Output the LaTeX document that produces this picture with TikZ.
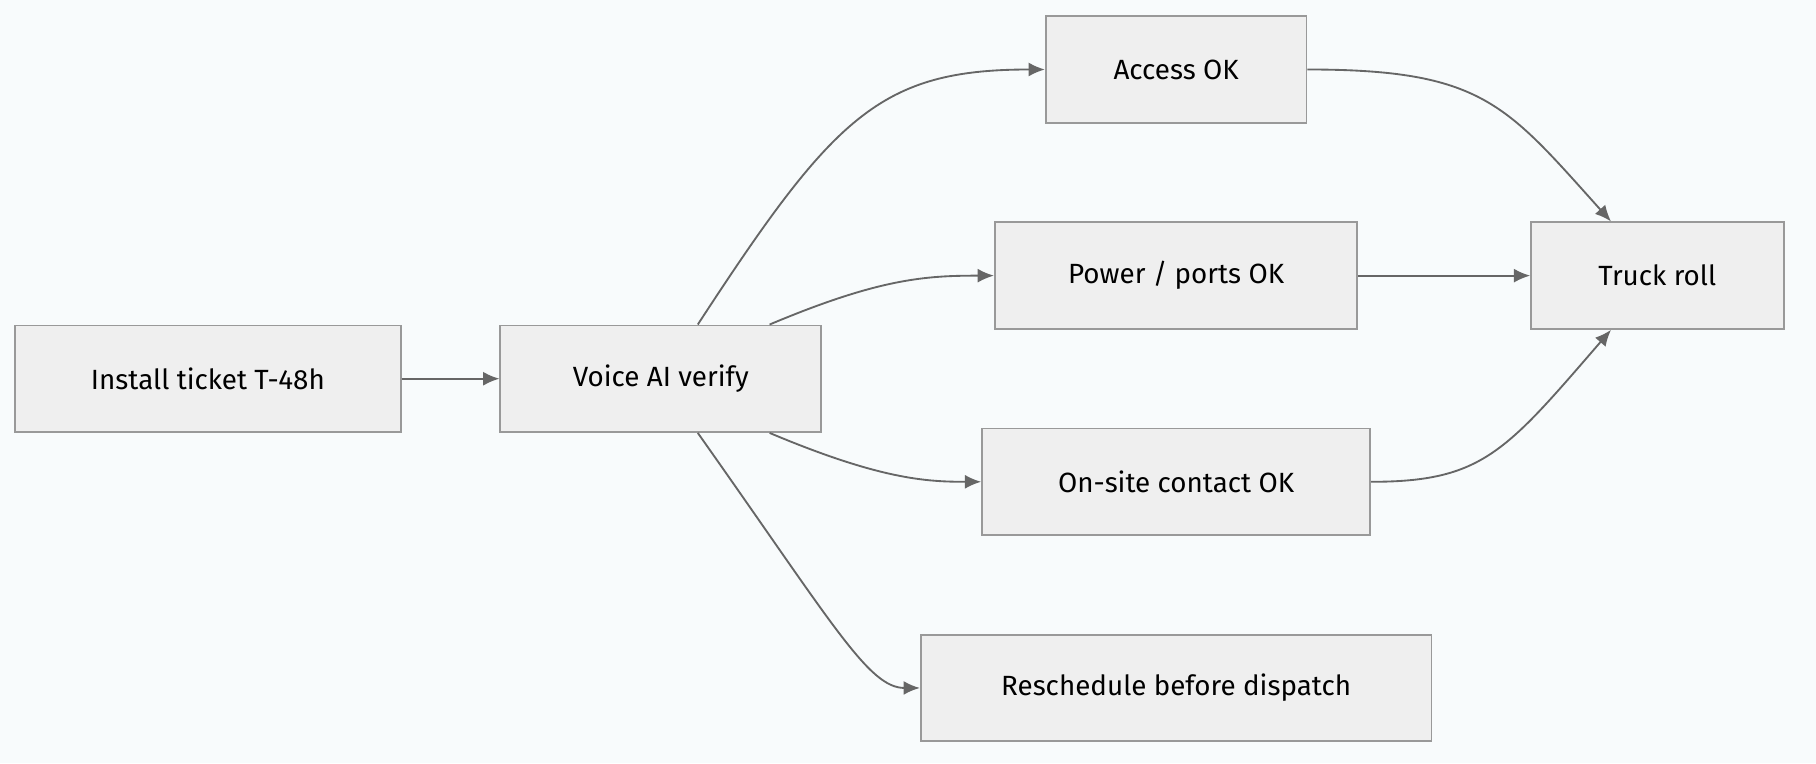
\documentclass[tikz,border=0pt]{standalone}
\usepackage{fontspec}
\setmainfont{Fira Sans}
\usetikzlibrary{arrows.meta,positioning}
\definecolor{bgcol}{HTML}{F8FBFC}
\definecolor{boxfill}{HTML}{EFEFEF}
\definecolor{boxline}{HTML}{999999}
\definecolor{edgecol}{HTML}{666666}

\begin{document}
\begin{tikzpicture}[
        x=0.5pt, y=-0.5pt,
        every node/.style={draw=boxline, fill=boxfill, line width=0.8pt, minimum height=46pt, inner sep=0pt, font=\fontsize{12}{14}\selectfont},
        edge/.style={draw=edgecol, line width=0.8pt, -{Latex[length=7pt,width=6pt]}}
    ]
    \fill[bgcol] (0,0) rectangle (1568,659);
    \useasboundingbox (0,0) rectangle (1568,659);

    % Nodes
    \node[minimum width=166.5pt] (ticket) at (179.5,327) {Install ticket T-48h};
    \node[minimum width=138.5pt] (verify) at (570.5,327) {Voice AI verify};
    \node[minimum width=112.5pt] (access) at (1015.5,60) {Access OK};
    \node[minimum width=156.5pt] (power) at (1015.5,238) {Power / ports OK};
    \node[minimum width=167.5pt] (contact) at (1015.5,416) {On-site contact OK};
    \node[minimum width=220.5pt] (resched) at (1015.5,594) {Reschedule before dispatch};
    \node[minimum width=109pt] (truck) at (1431,238) {Truck roll};

    % Edges
    \draw[edge] (ticket) -- (verify);
    \draw[edge] ([xshift=16pt]verify.north) .. controls (720,100) and (760,60) .. (access.west);
    \draw[edge] ([xshift=47pt]verify.north) .. controls (760,240) and (800,238) .. (power.west);
    \draw[edge] ([xshift=47pt]verify.south) .. controls (760,414) and (800,416) .. (contact.west);
    \draw[edge] ([xshift=16pt]verify.south) .. controls (720,540) and (750,594) .. (resched.west);
    \draw[edge] (access.east) .. controls (1280,60) and (1300,90) .. ([xshift=-20pt]truck.north);
    \draw[edge] (power) -- (truck);
    \draw[edge] (contact.east) .. controls (1280,416) and (1300,390) .. ([xshift=-20pt]truck.south);

\end{tikzpicture}
\end{document}
